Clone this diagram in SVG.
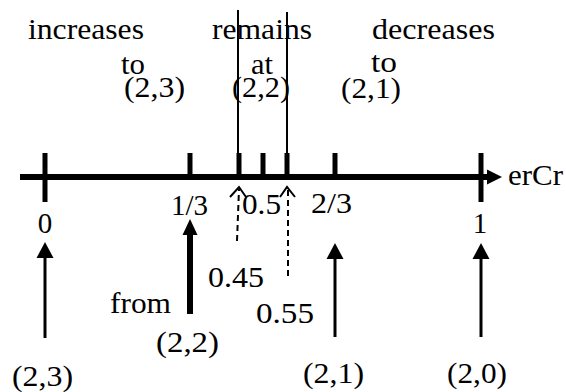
<svg xmlns="http://www.w3.org/2000/svg" width="566" height="392" viewBox="0 0 566 392">
<defs>
<style>
.t text{font-family:'Liberation Serif','Times New Roman',Times,serif;font-size:29px;fill:#000}
.tick{stroke:#000;stroke-width:5;fill:none}
.thin{stroke:#000;stroke-width:2;fill:none}
.arr{stroke:#000;stroke-width:3;fill:none}
.dash{stroke:#000;stroke-width:2;stroke-dasharray:6,4;fill:none}
.open{stroke:#000;stroke-width:2;fill:none}
</style>
</defs>
<rect width="566" height="392" fill="#fff"/>
<g id="axis" class="t">
<line x1="20" y1="177" x2="489" y2="177" stroke="#000" stroke-width="6"/>
<polygon points="487,169.5 502,177 487,184.5" fill="#000"/>
<text x="508" y="185" textLength="55" lengthAdjust="spacingAndGlyphs">erCr</text>
</g>
<g id="ticks">
<line class="tick" x1="45" y1="153" x2="45" y2="202"/>
<line class="tick" x1="190" y1="153" x2="190" y2="177"/>
<line class="tick" x1="239" y1="153" x2="239" y2="177"/>
<line class="tick" x1="263" y1="153" x2="263" y2="177"/>
<line class="tick" x1="287" y1="153" x2="287" y2="177"/>
<line class="tick" x1="335" y1="153" x2="335" y2="177"/>
<line class="tick" x1="481" y1="153" x2="481" y2="202"/>
</g>
<g id="tick-labels" class="t">
<text x="45" y="233" text-anchor="middle">0</text>
<text x="171" y="215" textLength="37" lengthAdjust="spacingAndGlyphs">1/3</text>
<text x="242" y="214" textLength="39" lengthAdjust="spacingAndGlyphs">0.5</text>
<text x="311" y="213" textLength="41" lengthAdjust="spacingAndGlyphs">2/3</text>
<text x="480" y="233" text-anchor="middle">1</text>
</g>
<g id="top-labels" class="t">
<text x="28" y="39" textLength="116" lengthAdjust="spacingAndGlyphs">increases</text>
<text x="121" y="74" textLength="24" lengthAdjust="spacingAndGlyphs">to</text>
<text x="124" y="97" textLength="61" lengthAdjust="spacingAndGlyphs">(2,3)</text>
<text x="212" y="39" textLength="100" lengthAdjust="spacingAndGlyphs">remains</text>
<text x="251" y="74" textLength="22" lengthAdjust="spacingAndGlyphs">at</text>
<text x="232" y="97" textLength="58" lengthAdjust="spacingAndGlyphs">(2,2)</text>
<text x="372" y="39" textLength="123" lengthAdjust="spacingAndGlyphs">decreases</text>
<text x="371" y="72" textLength="26" lengthAdjust="spacingAndGlyphs">to</text>
<text x="341" y="98" textLength="60" lengthAdjust="spacingAndGlyphs">(2,1)</text>
</g>
<g id="connectors">
<line class="thin" x1="238" y1="10" x2="238" y2="153"/>
<line class="thin" x1="287" y1="12" x2="287" y2="153"/>
<line class="arr" x1="45" y1="338" x2="45" y2="255"/>
<polygon points="45,242 53.5,258 36.5,258" fill="#000"/>
<line x1="190" y1="314" x2="190" y2="232" stroke="#000" stroke-width="6"/>
<polygon points="190,219 197.5,235 182.5,235" fill="#000"/>
<line class="arr" x1="335" y1="337" x2="335" y2="255"/>
<polygon points="335,243 343.5,259 326.5,259" fill="#000"/>
<line class="arr" x1="481" y1="337" x2="481" y2="255"/>
<polygon points="481,243 489.5,259 472.5,259" fill="#000"/>
<line class="dash" x1="237" y1="241" x2="239" y2="189"/>
<polyline class="open" points="230,197 239,187 246,197"/>
<line class="dash" x1="288" y1="276" x2="288" y2="189"/>
<polyline class="open" points="280,197 287,187 295,197"/>
</g>
<g id="bottom-labels" class="t">
<text x="208" y="287" textLength="56" lengthAdjust="spacingAndGlyphs">0.45</text>
<text x="256" y="323" textLength="58" lengthAdjust="spacingAndGlyphs">0.55</text>
<text x="110" y="313" textLength="61" lengthAdjust="spacingAndGlyphs">from</text>
<text x="156" y="352" textLength="63" lengthAdjust="spacingAndGlyphs">(2,2)</text>
<text x="12" y="386" textLength="61" lengthAdjust="spacingAndGlyphs">(2,3)</text>
<text x="303" y="383" textLength="61" lengthAdjust="spacingAndGlyphs">(2,1)</text>
<text x="447" y="383" textLength="60" lengthAdjust="spacingAndGlyphs">(2,0)</text>
</g>
</svg>
